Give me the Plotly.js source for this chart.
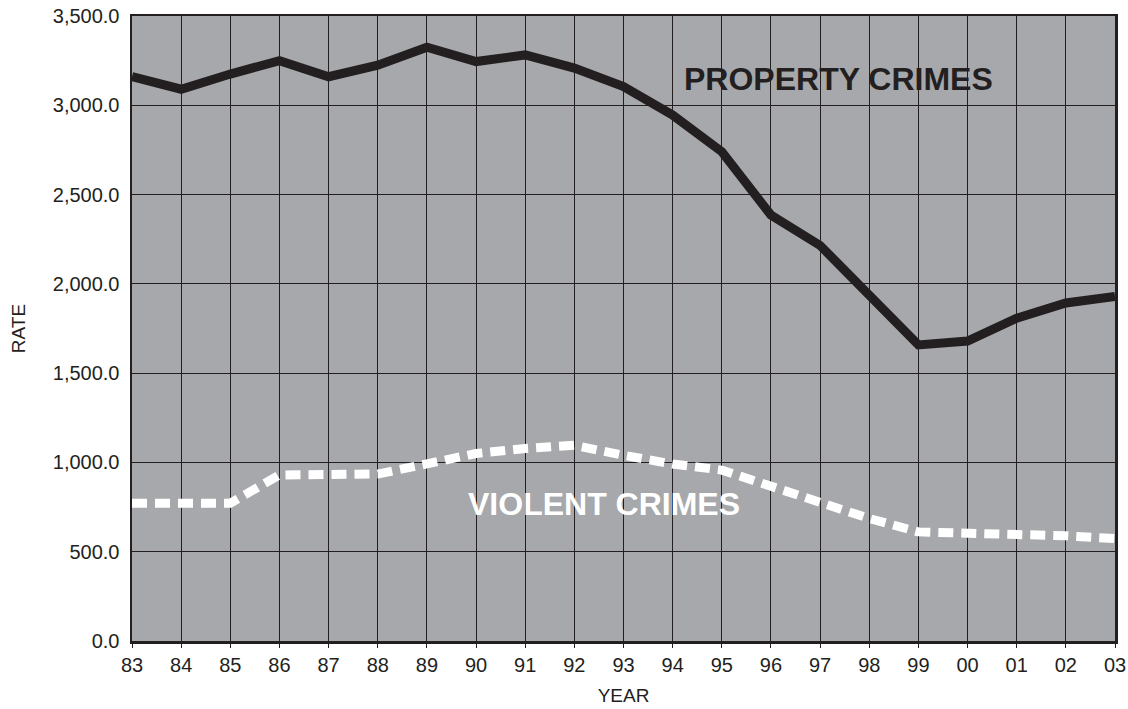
<!DOCTYPE html>
<html>
<head>
<meta charset="utf-8">
<script src="https://cdn.plot.ly/plotly-3.0.1.min.js"></script>
<style>html,body{margin:0;padding:0;background:#fff;}#chart{width:1128px;height:709px;}</style>
</head>
<body>
<div id="chart"></div>
<script>
var years = ['83','84','85','86','87','88','89','90','91','92','93','94','95','96','97','98','99','00','01','02','03'];
var propertyCrimes = [3160, 3090, 3175, 3250, 3160, 3225, 3325, 3245, 3282, 3208, 3105, 2945, 2740, 2385, 2215, 1945, 1658, 1680, 1808, 1893, 1930];
var violentCrimes = [772, 767, 772, 930, 930, 935, 992, 1050, 1078, 1096, 1040, 991, 957, 867, 787, 686, 611, 607, 602, 589, 574];
var yTicks = [0, 500, 1000, 1500, 2000, 2500, 3000, 3500];

var dark = '#231f20';
var fam = '"Liberation Sans", Arial, sans-serif';
var traces = [
  {x: years, y: propertyCrimes, type: 'scatter', mode: 'lines', name: 'PROPERTY CRIMES',
   line: {color: dark, width: 9}},
  {x: years, y: violentCrimes, type: 'scatter', mode: 'lines', name: 'VIOLENT CRIMES',
   line: {color: '#ffffff', width: 9, dash: '15px,8px'}}
];
var layout = {
  width: 1128, height: 709,
  margin: {l: 132, r: 13, t: 16, b: 68},
  paper_bgcolor: '#ffffff', plot_bgcolor: '#a6a8ab',
  showlegend: false,
  font: {family: fam, color: dark},
  xaxis: {
    type: 'category', range: [0, 20],
    showgrid: true, gridcolor: dark, gridwidth: 1,
    showline: true, linecolor: dark, linewidth: 2.5, mirror: true,
    ticks: 'outside', ticklen: 4, tickcolor: dark,
    tickfont: {size: 20, color: dark, family: fam},
    title: {text: 'YEAR', font: {size: 19, color: dark, family: fam}, standoff: 14},
    zeroline: false, fixedrange: true
  },
  yaxis: {
    range: [0, 3500], tickvals: yTicks, tickformat: ',.1f',
    showgrid: true, gridcolor: dark, gridwidth: 1,
    showline: true, linecolor: dark, linewidth: 2.5, mirror: true,
    ticks: '', tickfont: {size: 20, color: dark, family: fam},
    ticklabelstandoff: 6,
    title: {text: 'RATE', font: {size: 19, color: dark, family: fam}, standoff: 22},
    zeroline: false, fixedrange: true
  },
  annotations: [
    {xref: 'paper', yref: 'y', x: 0.719, y: 3150, xanchor: 'center', yanchor: 'middle',
     text: '<b>PROPERTY CRIMES</b>', showarrow: false,
     font: {size: 32, color: dark, family: fam}},
    {xref: 'paper', yref: 'y', x: 0.48, y: 765, xanchor: 'center', yanchor: 'middle',
     text: '<b>VIOLENT CRIMES</b>', showarrow: false,
     font: {size: 32, color: '#ffffff', family: fam}}
  ]
};
Plotly.newPlot('chart', traces, layout, {displayModeBar: false, staticPlot: true});
</script>
</body>
</html>
